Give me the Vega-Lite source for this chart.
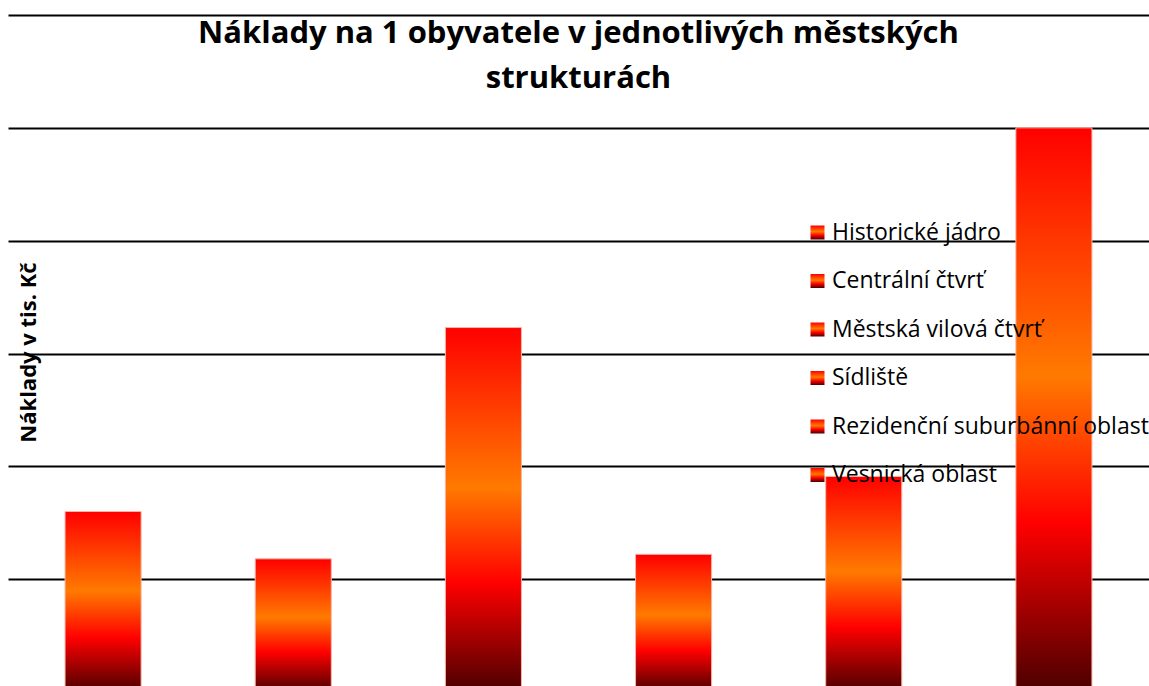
{
  "$schema": "https://vega.github.io/schema/vega-lite/v6.json",
  "width": 1141,
  "height": 677,
  "autosize": "none",
  "padding": {"left": 8, "top": 15, "right": 0, "bottom": 0},
  "background": "white",
  "title": {
    "text": ["Náklady na 1 obyvatele v jednotlivých městských", "strukturách"],
    "font": "Open Sans",
    "fontSize": 31,
    "fontWeight": "bold",
    "color": "#000000",
    "lineHeight": 45,
    "anchor": "middle",
    "baseline": "top",
    "offset": -80
  },
  "data": {
    "values": [
      {"category": "Historické jádro", "value": 16.0},
      {"category": "Centrální čtvrť", "value": 11.8},
      {"category": "Městská vilová čtvrť", "value": 32.3},
      {"category": "Sídliště", "value": 12.2},
      {"category": "Rezidenční suburbánní oblast", "value": 19.1},
      {"category": "Vesnická oblast", "value": 50.0}
    ]
  },
  "mark": {
    "type": "bar",
    "strokeWidth": 1,
    "fill": {"gradient": "linear", "x1": 0, "y1": 0, "x2": 0, "y2": 1, "stops": [{"offset": 0, "color": "#ff0000"}, {"offset": 0.44, "color": "#ff7a00"}, {"offset": 0.7, "color": "#ff0000"}, {"offset": 1, "color": "#4a0000"}]},
    "fillOpacity": 1
  },
  "encoding": {
    "x": {
      "field": "category",
      "type": "nominal",
      "sort": null,
      "axis": null,
      "scale": {"paddingInner": 0.6, "paddingOuter": 0.3}
    },
    "y": {
      "field": "value",
      "type": "quantitative",
      "scale": {"domain": [0, 60], "nice": false},
      "axis": {
        "values": [0, 10, 20, 30, 40, 50, 60],
        "labels": false,
        "ticks": false,
        "domain": false,
        "grid": true,
        "gridColor": "#000000",
        "gridWidth": 2,
        "gridOpacity": 1,
        "title": "Náklady v tis. Kč",
        "titleFont": "Open Sans",
        "titleFontSize": 22,
        "titleFontWeight": "bold",
        "titleColor": "#000000",
        "titleAngle": -90,
        "titleAlign": "center",
        "titleBaseline": "bottom",
        "titleX": 32,
        "titleY": 337
      }
    },
    "stroke": {
      "field": "category",
      "type": "nominal",
      "sort": null,
      "scale": {"range": ["#f5b5a8", "#f5b5a8", "#f5b5a8", "#f5b5a8", "#f5b5a8", "#f5b5a8"]},
      "legend": {
        "orient": "none",
        "legendX": 798,
        "legendY": 206,
        "title": null,
        "padding": 0,
        "labelFont": "Open Sans",
        "labelFontSize": 23,
        "labelColor": "#000000",
        "labelLimit": 400,
        "labelOffset": 3,
        "symbolType": "square",
        "symbolSize": 196,
        "symbolStrokeWidth": 0,
        "symbolOpacity": 1,
        "rowPadding": 24.5,
        "encode": {
          "symbols": {
            "update": {
              "fill": {"value": {"gradient": "linear", "x1": 0, "y1": 0, "x2": 0, "y2": 1, "stops": [{"offset": 0, "color": "#ff0000"}, {"offset": 0.44, "color": "#ff7a00"}, {"offset": 0.7, "color": "#ff0000"}, {"offset": 1, "color": "#4a0000"}]}},
              "fillOpacity": {"value": 1},
              "strokeWidth": {"value": 0}
            }
          }
        }
      }
    }
  },
  "config": {
    "view": {"stroke": null}
  }
}
